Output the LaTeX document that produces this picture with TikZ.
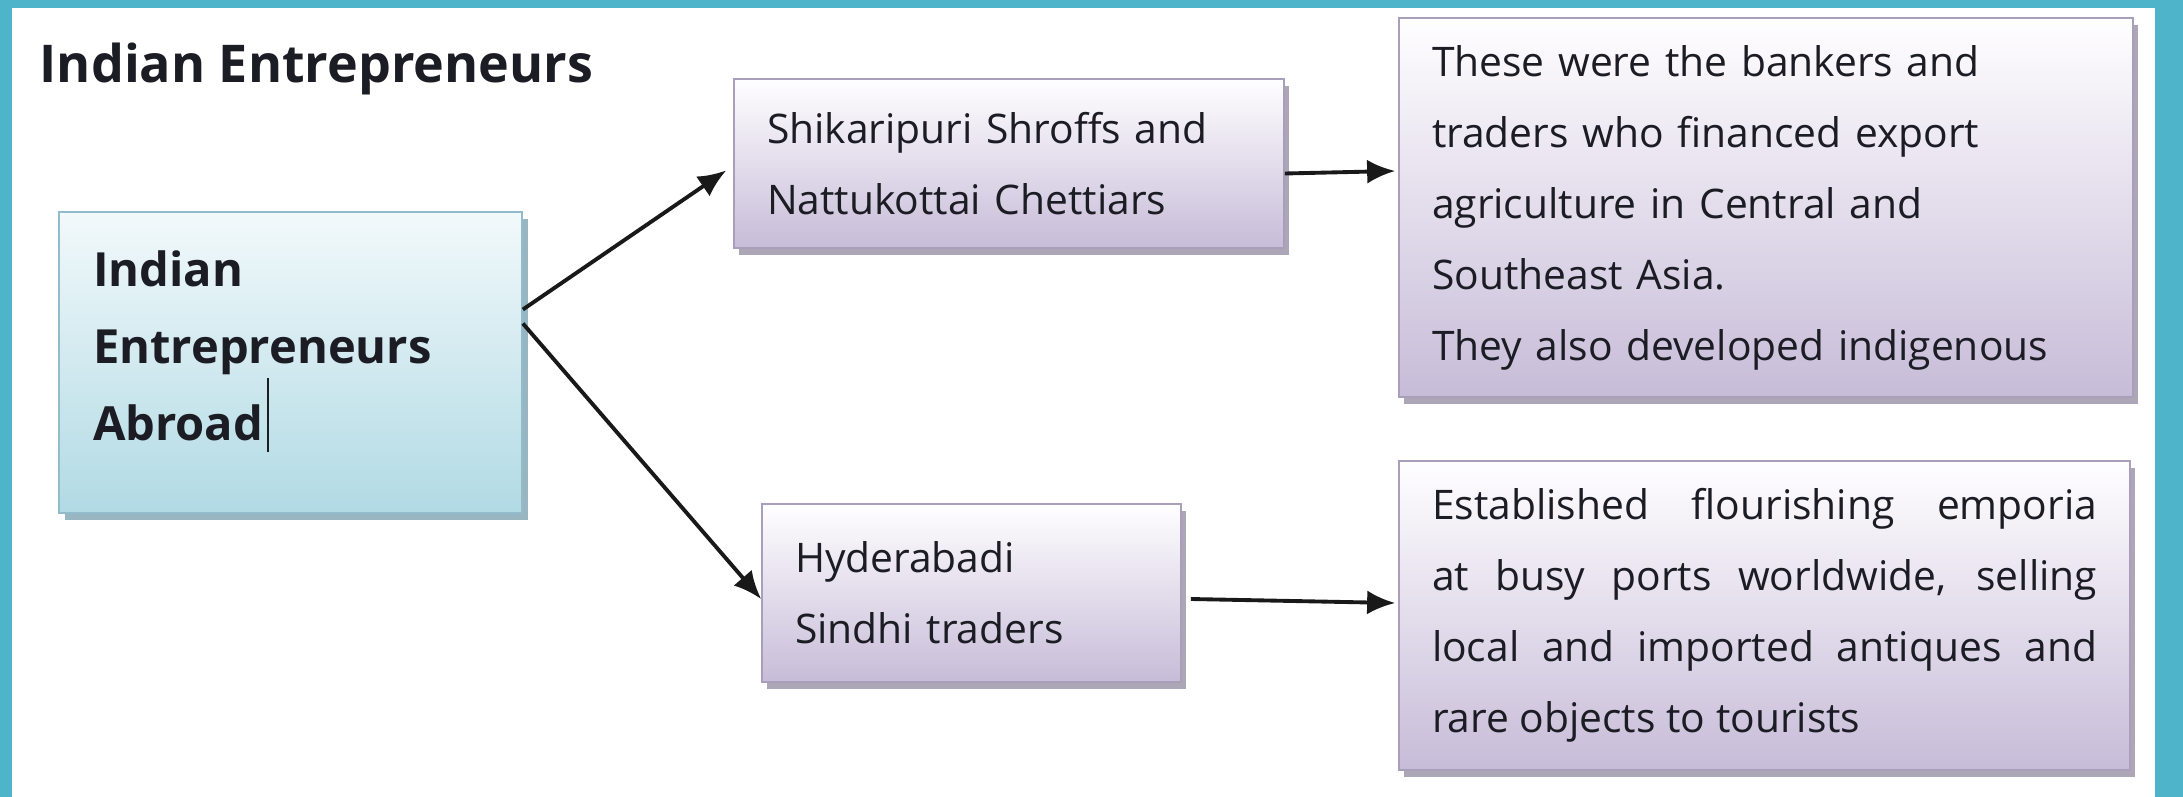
\documentclass[tikz,border=0pt]{standalone}
\usepackage{fontspec}
\setmainfont{Open Sans}
\usepackage{xcolor}
\definecolor{frameTeal}{HTML}{4DB4C9}
\definecolor{rootTop}{HTML}{F2F9FB}
\definecolor{rootBottom}{HTML}{B1DAE4}
\definecolor{rootEdge}{HTML}{92BCCB}
\definecolor{rootShade}{HTML}{7FA4B2}
\definecolor{lilacTop}{HTML}{FFFEFF}
\definecolor{lilacBottom}{HTML}{C7BCD8}
\definecolor{lilacEdge}{HTML}{A99FBB}
\definecolor{lilacShade}{HTML}{9890A6}
\definecolor{inkDark}{HTML}{1C1C24}
\usepackage{tikz}
\usetikzlibrary{arrows.meta,shadows}
\tikzset{
  rootbox/.style={
    draw=rootEdge,
    top color=rootTop,
    bottom color=rootBottom,
    line width=0.5pt,
    drop shadow={shadow xshift=0.06cm,shadow yshift=-0.07cm,fill=rootShade,opacity=0.8},
    inner xsep=0.34cm,
    align=left,
    text=inkDark,
    font=\bfseries\fontsize{13.4}{22}\selectfont
  },
  lilacbox/.style={
    draw=lilacEdge,
    top color=lilacTop,
    bottom color=lilacBottom,
    line width=0.5pt,
    drop shadow={shadow xshift=0.05cm,shadow yshift=-0.07cm,fill=lilacShade,opacity=0.8},
    inner xsep=0.33cm,
    align=left,
    text=inkDark,
    font=\fontsize{11.6}{20.2}\selectfont
  },
  entline/.style={
    draw=black!90,
    line width=1.1pt,
    -{Latex[length=2.8mm,width=2.4mm]}
  }
}

\begin{document}
\begin{tikzpicture}[x=1cm,y=1cm]
  % frame
  \fill[frameTeal] (0,0) rectangle (21.83,-7.97);
  \fill[white] (0.12,-0.08) rectangle (21.55,-7.97);
  \useasboundingbox (0,0) rectangle (21.83,-7.97);

  \node[anchor=base west,inner sep=0pt,text=inkDark,font=\bfseries\fontsize{14.8}{16}\selectfont] (title) at (0.39,-0.82) {Indian Entrepreneurs};

  \node[rootbox,minimum width=4.63cm,minimum height=3.01cm,text width=3.95cm] (root) at (2.905,-3.625)
    {Indian\\Entrepreneurs\\Abroad\hspace{1pt}\rule[-0.45ex]{0.6pt}{2.9ex}\par\vspace{0.22cm}};
  \node[lilacbox,minimum width=5.50cm,minimum height=1.69cm,text width=4.84cm] (shroffs) at (10.09,-1.635)
    {Shikaripuri Shroffs and\\Nattukottai Chettiars};
  \node[lilacbox,minimum width=4.19cm,minimum height=1.78cm,text width=3.53cm] (sindhi) at (9.715,-5.93)
    {Hyderabadi\\Sindhi traders};
  \node[lilacbox,minimum width=7.34cm,minimum height=3.79cm,text width=6.68cm] (bankers) at (17.66,-2.075)
    {These were the bankers and\\traders who financed export\\agriculture in Central and\\Southeast Asia.\\They also developed indigenous};
  \node[lilacbox,align=justify,minimum width=7.31cm,minimum height=3.09cm,text width=6.65cm] (emporia) at (17.645,-6.155)
    {Established flourishing emporia\linebreak at busy ports worldwide, selling\linebreak local and imported antiques and\linebreak rare objects to tourists};

  \draw[entline] ([yshift=0.53cm]root.east) -- ([xshift=-0.07cm,yshift=-0.07cm]shroffs.west);
  \draw[entline] ([yshift=0.39cm]root.east) -- ([yshift=-0.06cm]sindhi.west);
  \draw[entline] ([yshift=-0.10cm]shroffs.east) -- ([xshift=-0.03cm,yshift=0.365cm]bankers.west);
  \draw[entline] ([xshift=0.09cm,yshift=-0.06cm]sindhi.east) -- ([xshift=-0.03cm,yshift=0.125cm]emporia.west);
\end{tikzpicture}
\end{document}
